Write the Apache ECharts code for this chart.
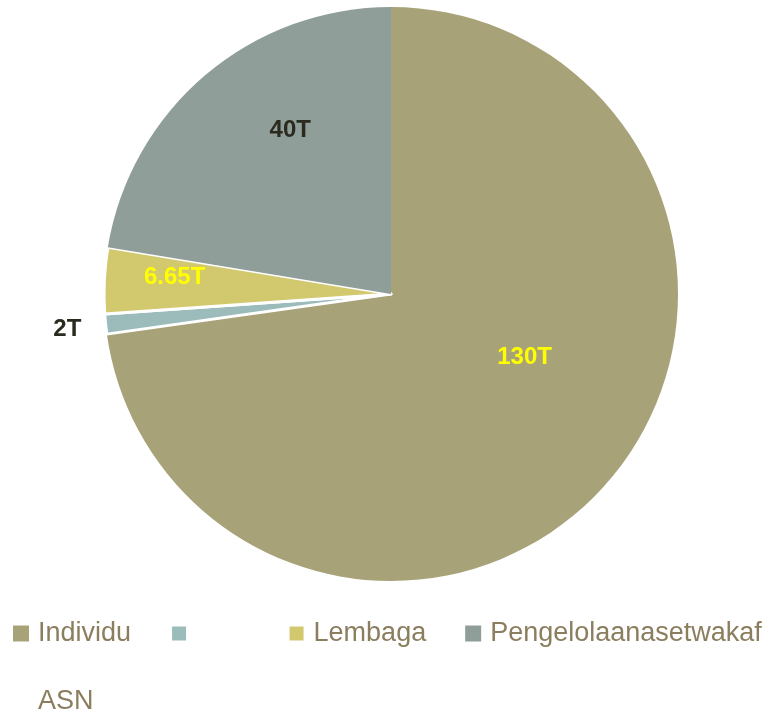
<!DOCTYPE html>
<html>
<head>
<meta charset="utf-8">
<style>
html,body{margin:0;padding:0;background:#fff;}
#chart{width:768px;height:715px;}
</style>
<script src="https://cdn.jsdelivr.net/npm/echarts@6/dist/echarts.min.js"></script>
</head>
<body>
<div id="chart"></div>
<script>
// Data
const categories = ['Individu', '       ', 'Lembaga', 'Pengelolaanasetwakaf', 'ASN'];
const values = [130, 2, 6.65, 40, 0];
const colors = ['#A8A278', '#9BBCBA', '#D2C86E', '#8F9E99', '#ffffff'];
const labelColors = ['#FFFF00', '#2B2A1E', '#FFFF00', '#2B2A1E', '#2B2A1E'];
const labelOffsets = [[23, -33], [-178, 20], [-70, -10], [-6, -52], [0, 0]];
const borderWidths = [0, 3, 3, 0, 0];

const FONT = "'Liberation Sans', Arial, sans-serif";

const chart = echarts.init(document.getElementById('chart'), null, {renderer: 'canvas'});

const data = categories.map((name, i) => ({
  name: name,
  value: values[i],
  itemStyle: {color: colors[i], borderColor: '#ffffff', borderWidth: borderWidths[i]},
  label: {
    show: values[i] > 0,
    color: labelColors[i],
    offset: labelOffsets[i]
  }
}));

const legendData = categories.map((name, i) =>
  values[i] > 0 ? {name: name} : {name: name, itemStyle: {opacity: 0}}
);

chart.setOption({
  animation: false,
  backgroundColor: '#ffffff',
  legend: {
    data: legendData,
    left: 8,
    top: 614,
    width: 790,
    icon: 'rect',
    itemWidth: 16,
    itemHeight: 16,
    itemGap: 39,
    textStyle: {
      fontFamily: FONT,
      fontSize: 27,
      lineHeight: 29,
      color: '#8B7E5E',
      padding: [0, 0, 0, 4]
    },
    selectedMode: false
  },
  series: [{
    type: 'pie',
    center: [391, 294],
    radius: [0, 287],
    startAngle: 90,
    clockwise: true,
    avoidLabelOverlap: false,
    label: {
      position: 'inside',
      fontFamily: FONT,
      fontSize: 24,
      fontWeight: 'bold',
      formatter: (p) => p.value + 'T'
    },
    labelLine: {show: false},
    emphasis: {disabled: true},
    data: data
  }]
});
</script>
</body>
</html>
